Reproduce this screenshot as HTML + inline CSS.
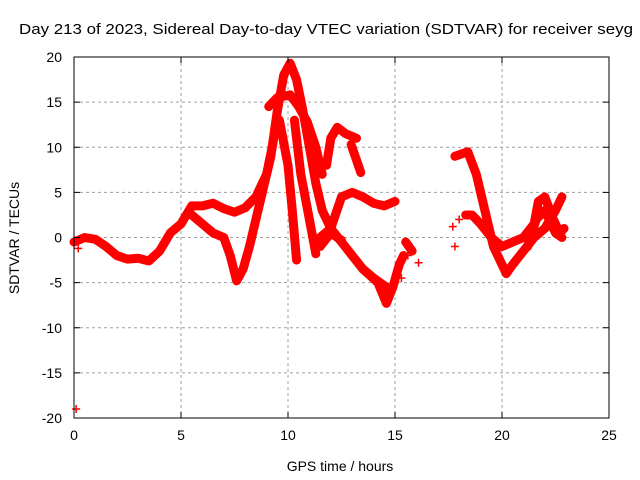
<!DOCTYPE html>
<html><head><meta charset="utf-8"><style>
body{margin:0;background:#fff;}
svg{display:block;font-family:"Liberation Sans",sans-serif;}
</style></head><body>
<svg id="c" width="640" height="480">
<text x="19" y="34" font-size="15" textLength="614" lengthAdjust="spacingAndGlyphs">Day 213 of 2023, Sidereal Day-to-day VTEC variation (SDTVAR) for receiver seyg</text>
<g id="grid"></g><g id="data"></g><g id="axes"></g>
<text x="340" y="471" font-size="14" text-anchor="middle">GPS time / hours</text>
<text transform="translate(19,238) rotate(-90)" font-size="14" text-anchor="middle">SDTVAR / TECUs</text>
</svg>
<script>
const xTicks=[0,5,10,15,20,25];
const yTicks=[-20,-15,-10,-5,0,5,10,15,20];
const trackA=[[0,-0.5],[0.5,0],[1,-0.2],[1.5,-1],[2,-2],[2.5,-2.4],[3,-2.3],[3.5,-2.6],[4,-1.5],[4.5,0.5],[5,1.5],[5.5,3.5],[6,3.5],[6.5,3.8],[7,3.2],[7.5,2.8],[8,3.3],[8.5,4.5],[9,7],[9.3,10.5],[9.5,14]];
const trackB=[[5.5,2.5],[6,1.5],[6.5,0.5],[7,0],[7.3,-2],[7.6,-4.8],[7.9,-3.5],[8.2,-1],[8.5,2],[8.8,5],[9.2,9],[9.5,14],[9.8,18],[10.1,19.3],[10.4,17.5],[10.7,14],[11,10],[11.3,6],[11.6,3],[12,1],[12.5,-0.5],[13,-2],[13.5,-3.5],[14,-4.5],[14.6,-5.5]];
const trackC=[[9.1,14.5],[9.5,15.5],[10.1,15.8],[10.5,14.5],[10.9,12.8],[11.3,10],[11.6,7]];
const trackD=[[9.6,13],[10,8],[10.2,3],[10.4,-2.5]];
const trackE=[[10.3,13],[10.6,7],[11,2],[11.3,-1.8]];
const trackF=[[11.8,8],[12,11],[12.3,12.2],[12.7,11.5],[13.2,11]];
const trackG=[[12.95,10.3],[13.4,7.2]];
const trackH=[[11.5,0],[12,1],[12.5,4.5],[13,5],[13.5,4.5],[14,3.8],[14.5,3.5],[15,4]];
const trackI=[[11.5,-1],[12,0.5],[12.5,-0.3]];
const trackJ=[[13.5,-3.5],[14.2,-5],[14.6,-7.3],[14.9,-5.5],[15.2,-3],[15.4,-2]];
const trackK=[[15.5,-0.5],[15.8,-1.5]];
const trackL=[[17.8,9],[18.4,9.5],[18.8,7],[19.2,3],[19.6,-1],[20,-3],[20.2,-4],[20.5,-3],[21,-1.5],[21.5,0],[22,1],[22.5,3],[22.8,4.5]];
const trackM=[[18.3,2.5],[18.6,2.5],[19,1.5],[19.5,0],[20,-1],[20.5,-0.5],[21,0],[21.5,1.5],[21.7,4],[22,4.5],[22.4,2],[22.7,0.5],[22.9,1]];
const trackN=[[21.2,-1],[21.6,2],[22,3],[22.5,0.5],[22.8,0]];
const isolated=[[17.7,1.2],[17.8,-1],[18,2],[16.1,-2.8],[15.6,-2],[0.1,-19],[0.2,-1.2],[15.3,-4.5]];
const tracks=[trackA,trackB,trackC,trackD,trackE,trackF,trackG,trackH,trackI,trackJ,trackK,trackL,trackM,trackN];
const X0=74,X1=609,Y0=57,Y1=418;
const sx=v=>X0+(v-0)/25*(X1-X0);
const sy=v=>Y1-(v+20)/40*(Y1-Y0);
const NS='http://www.w3.org/2000/svg';
const mk=(t,a,p)=>{const e=document.createElementNS(NS,t);for(const k in a)e.setAttribute(k,a[k]);p.appendChild(e);return e;};
const grid=document.getElementById('grid'),axes=document.getElementById('axes'),data=document.getElementById('data');
xTicks.forEach(t=>{const x=sx(t);
 if(t>0&&t<25){const l=mk('line',{x1:x,x2:x,y1:Y0,y2:Y1,stroke:'#a0a0a0','stroke-dasharray':'3,3'},grid);
 
 }
 mk('line',{x1:x,x2:x,y1:Y1,y2:Y1-6,stroke:'#000'},axes);mk('line',{x1:x,x2:x,y1:Y0,y2:Y0+6,stroke:'#000'},axes);
 const tx=mk('text',{x:x,y:Y1+22,'font-size':14,'text-anchor':'middle'},axes);tx.textContent=t;
 
 });
yTicks.forEach(t=>{const y=sy(t);
 if(t>-20&&t<20){const l=mk('line',{x1:X0,x2:X1,y1:y,y2:y,stroke:'#a0a0a0','stroke-dasharray':'3,3'},grid);
 
 }
 mk('line',{x1:X0,x2:X0+6,y1:y,y2:y,stroke:'#000'},axes);mk('line',{x1:X1,x2:X1-6,y1:y,y2:y,stroke:'#000'},axes);
 const tx=mk('text',{x:X0-12,y:y+5,'font-size':14,'text-anchor':'end'},axes);tx.textContent=t;
 
 });
const fr=mk('rect',{x:X0,y:Y0,width:X1-X0,height:Y1-Y0,fill:'none',stroke:'#000'},axes);


tracks.forEach((tr,i)=>{
 const pl=mk('polyline',{points:tr.map(p=>sx(p[0])+','+sy(p[1])).join(' '),fill:'none',stroke:'#f00','stroke-width':9,'stroke-linejoin':'round','stroke-linecap':'round'},data);
 
 
});
isolated.forEach(p=>{const x=sx(p[0]),y=sy(p[1]);
 const g=mk('path',{d:`M${x-4},${y}h8M${x},${y-4}v8`,stroke:'#f00','stroke-width':1.5},data);
 
 });
</script>
</body></html>
